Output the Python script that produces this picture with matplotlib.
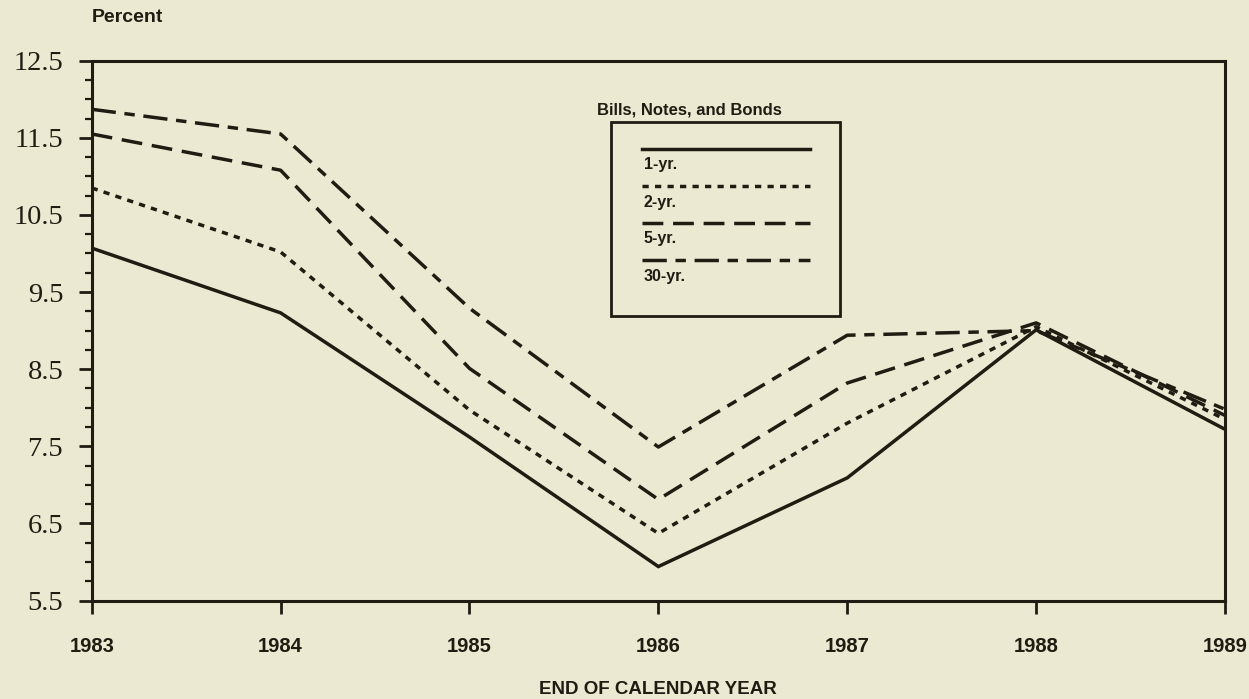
import matplotlib
matplotlib.use('Agg')
import matplotlib.pyplot as plt
from matplotlib.lines import Line2D
from matplotlib.patches import Rectangle
from matplotlib.ticker import MultipleLocator

years = [1983, 1984, 1985, 1986, 1987, 1988, 1989]
yield_1yr = [10.07, 9.23, 7.62, 5.94, 7.09, 9.01, 7.72]
yield_2yr = [10.85, 10.02, 7.97, 6.37, 7.80, 9.05, 7.85]
yield_5yr = [11.55, 11.08, 8.51, 6.81, 8.32, 9.10, 7.90]
yield_30yr = [11.87, 11.55, 9.29, 7.49, 8.94, 9.00, 7.98]
y_ticks = [5.5, 6.5, 7.5, 8.5, 9.5, 10.5, 11.5, 12.5]
series_labels = ['1-yr.', '2-yr.', '5-yr.', '30-yr.']
legend_title = 'Bills, Notes, and Bonds'

BG = '#ECE9D3'
INK = '#201c12'
W, H = 1249, 699

# line styles (dash lengths are in units of line width)
styles = [
    dict(linestyle='-'),
    dict(linestyle=(0, (1.8, 1.8))),
    dict(linestyle=(0, (6.0, 2.8))),
    dict(linestyle=(0, (7.0, 2.5, 3.0, 2.5))),
]
LW = 2.5

fig = plt.figure(figsize=(W / 100, H / 100), dpi=100, facecolor=BG)
ax = fig.add_axes([91.7 / W, (H - 600.5) / H, (1225 - 91.7) / W, (600.5 - 60.7) / H])
ax.set_facecolor(BG)

all_series = [yield_1yr, yield_2yr, yield_5yr, yield_30yr]
for vals, st in zip(all_series, styles):
    ax.plot(years, vals, color=INK, lw=LW, dash_capstyle='butt',
            solid_joinstyle='miter', **st)

ax.set_xlim(1983, 1989)
ax.set_ylim(5.5, 12.5)
ax.set_xticks(years)
ax.set_xticklabels([str(y) for y in years], fontfamily='Liberation Sans',
                   fontweight='bold', fontsize=14.5, color=INK)
ax.set_yticks(y_ticks)
ax.set_yticklabels([str(v) for v in y_ticks], fontfamily='Liberation Serif',
                   fontsize=20.5, color=INK)
ax.yaxis.set_minor_locator(MultipleLocator(0.25))
ax.tick_params(axis='y', which='major', direction='out', length=9.5, width=2,
               pad=11, color=INK)
ax.tick_params(axis='y', which='minor', direction='out', length=5, width=1.6,
               color=INK)
ax.tick_params(axis='x', which='major', direction='out', length=9.5, width=2,
               pad=17, color=INK)
for s in ax.spines.values():
    s.set_linewidth(2.2)
    s.set_color(INK)

fig.text(92 / W, (H - 18) / H, 'Percent', fontfamily='Liberation Sans',
         fontweight='bold', fontsize=14, color=INK, va='center', ha='left')
fig.text(658 / W, (H - 690) / H, 'END OF CALENDAR YEAR', fontfamily='Liberation Sans',
         fontweight='bold', fontsize=13.5, color=INK, va='center', ha='center')

# legend drawn in pixel coordinates
lg = fig.add_axes([0, 0, 1, 1], facecolor='none')
lg.set_xlim(0, W)
lg.set_ylim(H, 0)
lg.axis('off')
box_l, box_r, box_t, box_b = 610.7, 840, 122, 316
lg.add_patch(Rectangle((box_l, box_t), box_r - box_l, box_b - box_t, fill=False,
                       lw=2.0, edgecolor=INK))
lg.text(597, box_t - 12, legend_title, fontfamily='Liberation Sans',
        fontweight='bold', fontsize=12, color=INK, va='center', ha='left')
for i, (lab, st) in enumerate(zip(series_labels, styles)):
    yl = 149 + 37 * i
    lg.add_line(Line2D([642, 810], [yl, yl], color=INK, lw=LW, dash_capstyle='butt', **st))
    lg.text(644, yl + 16, lab, fontfamily='Liberation Sans', fontweight='bold',
            fontsize=11.5, color=INK, va='center', ha='left')

fig.savefig('out.png', dpi=100, facecolor=BG)
